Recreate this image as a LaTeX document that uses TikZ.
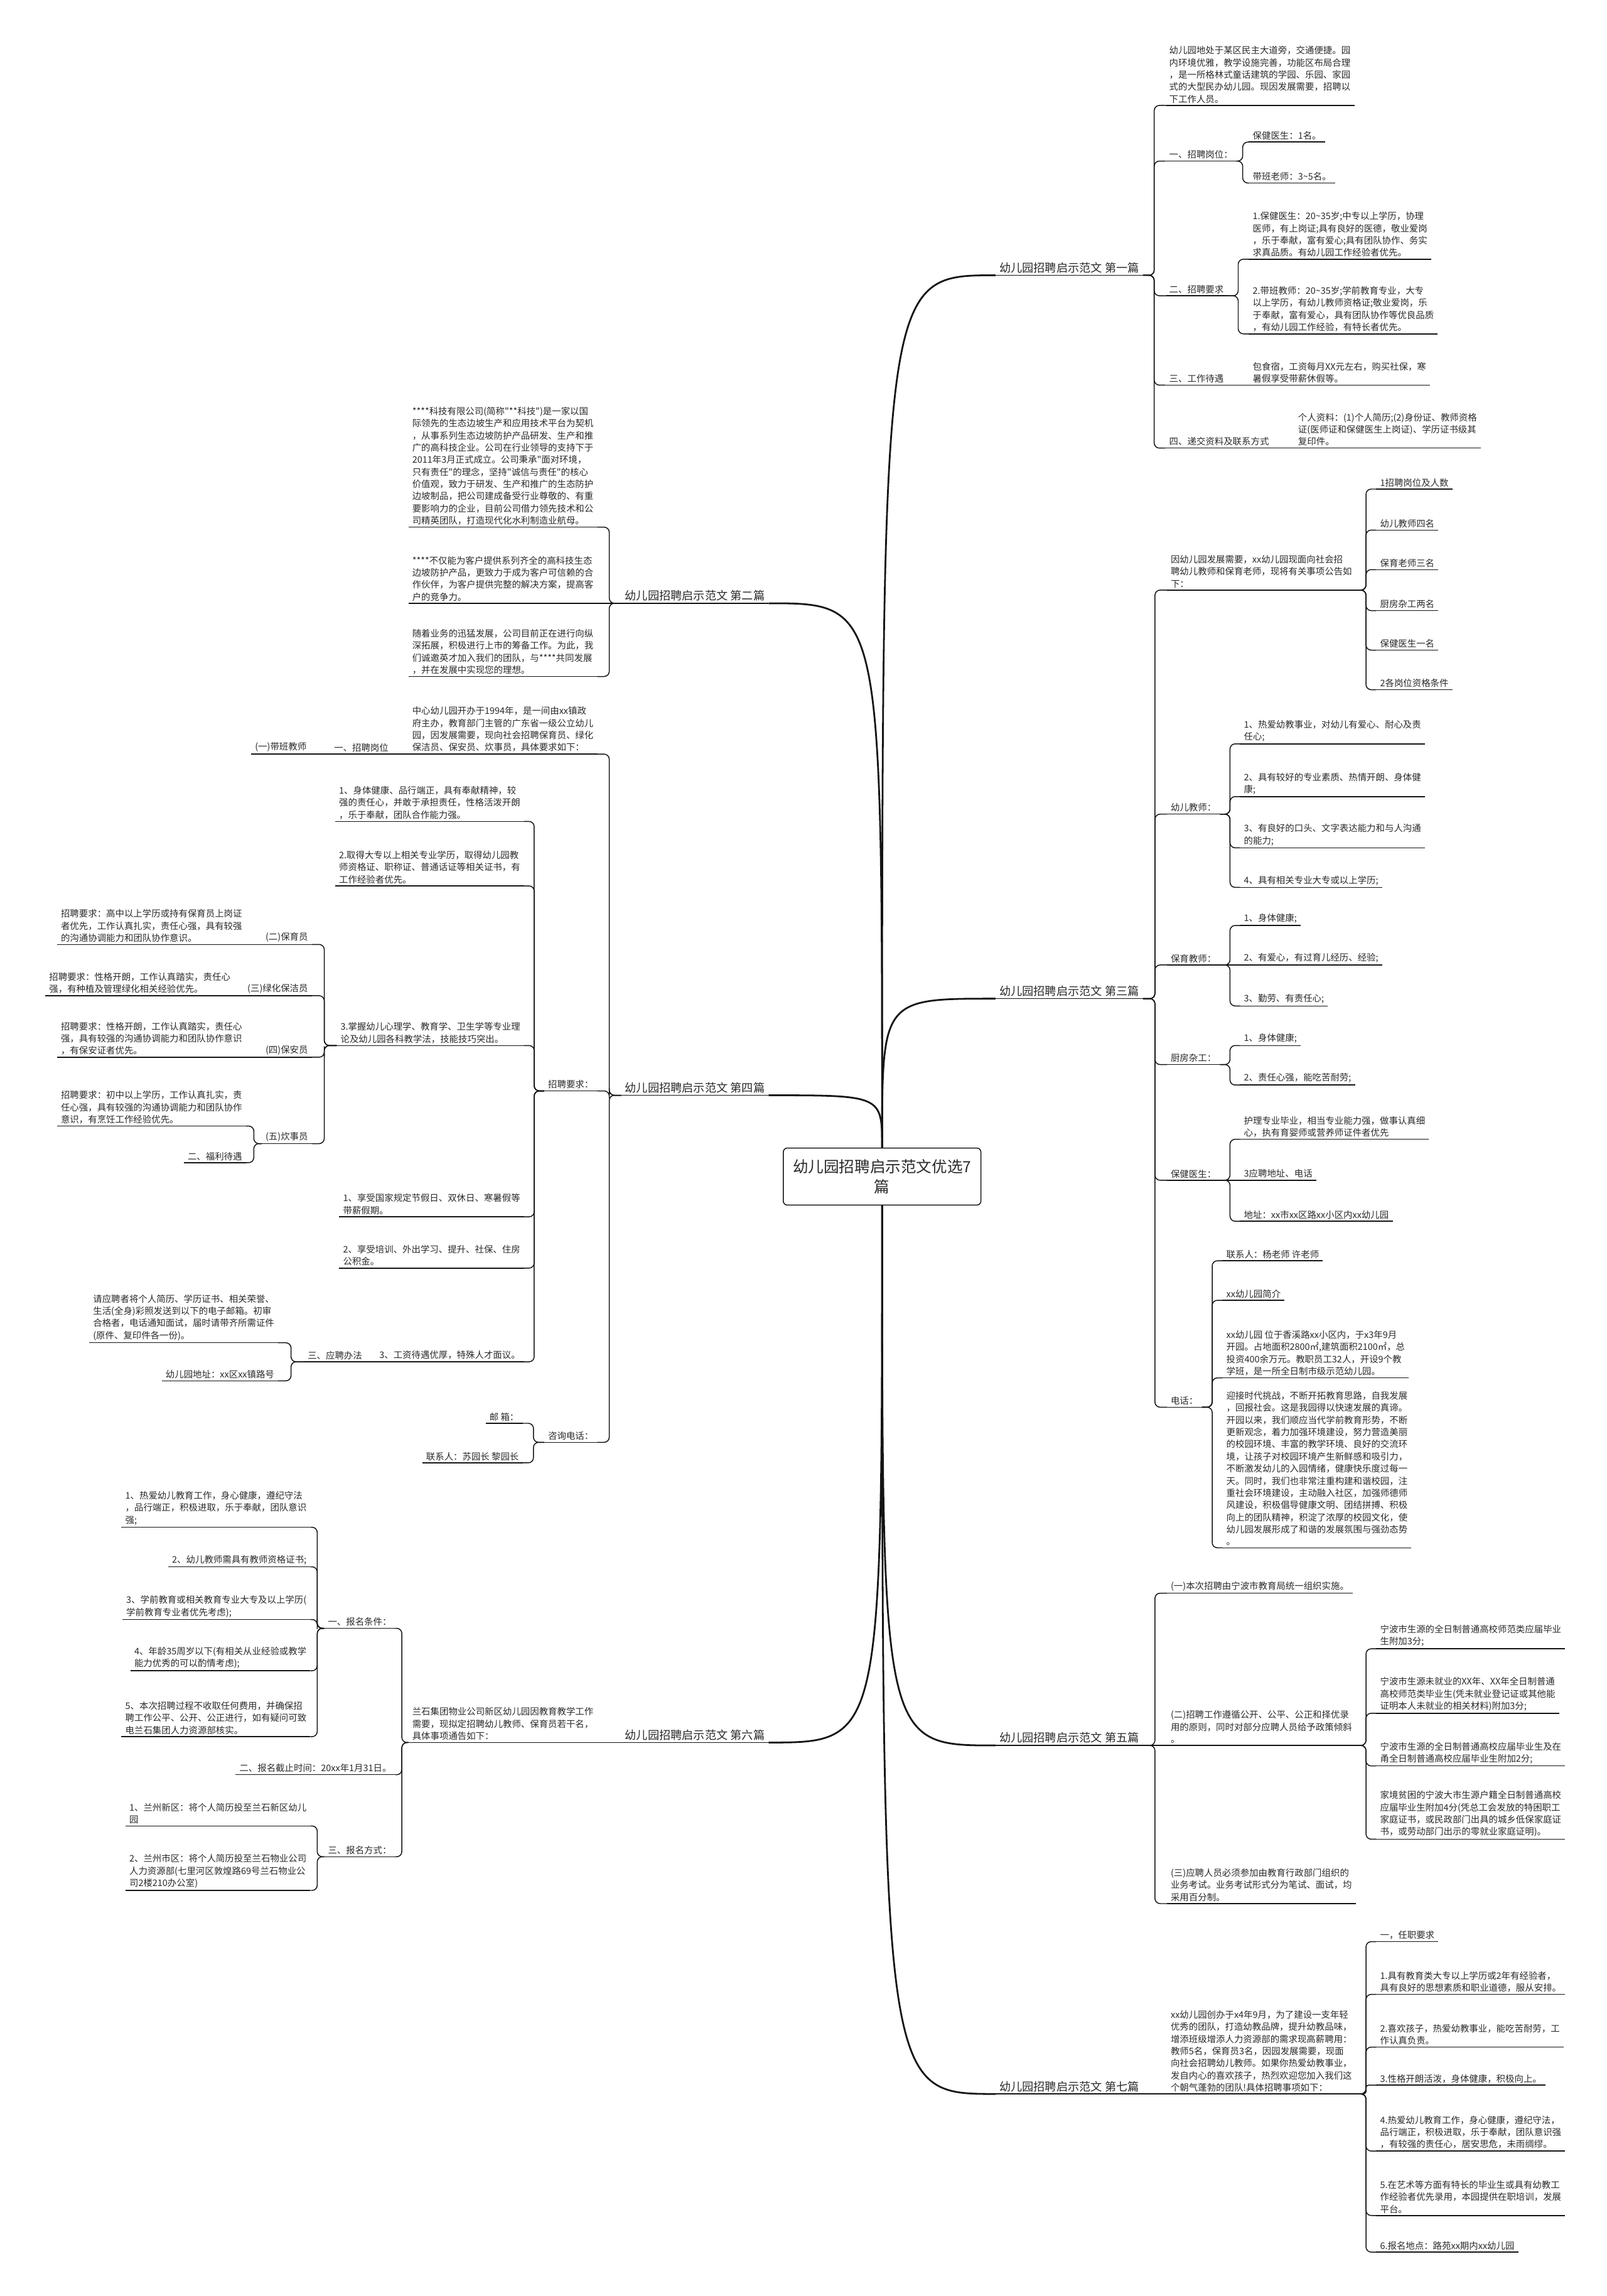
\documentclass[tikz,border=0pt]{standalone}
\usepackage{fontspec}
\setmainfont{Noto Sans CJK SC}[Ligatures=TeXOff]
\usetikzlibrary{calc}

\definecolor{MapInk}{HTML}{141414}
\definecolor{MapText}{HTML}{2A2A2A}

\begin{document}
\begin{tikzpicture}[x=0.5mm,y=-0.5mm,
    rule/.style={draw=MapInk,line width=0.9pt},
    leaf/.style={inner xsep=3.6pt,inner ysep=2pt,align=left,text=MapText,
      font=\fontsize{8.8pt}{11.8pt}\selectfont,
      append after command={(\tikzlastnode.south west) edge[rule] (\tikzlastnode.south east)}},
    rnode/.style={leaf,anchor=south west},
    lnode/.style={leaf,anchor=south east},
    branch/.style={leaf,font=\fontsize{11.1pt}{14pt}\selectfont},
    hub/.style={draw=MapInk,line width=0.9pt,rounded corners=4pt,align=center,
      minimum width=67.5mm,minimum height=19.5mm,text=MapText,
      font=\fontsize{15pt}{20pt}\selectfont},
    trunk/.style={draw=MapInk,line width=1.7pt,
      to path={(\tikztostart) .. controls (\tikztostart |- \tikztotarget) .. (\tikztotarget)}},
    twig/.style={rule,rounded corners=5pt,
      to path={(\tikztostart) -| ($(\tikztostart)!.5!(\tikztotarget)$) |- (\tikztotarget)}}]

    \fill[white] (0,0) rectangle (1097.6,1568);
    \useasboundingbox (0,0) rectangle (1097.6,1568);

    % centre and the seven branches
    \node[hub] (hub) at (602.5,803.5) {幼儿园招聘启示范文优选7\\篇};
    \node[branch,anchor=south west] (b1) at (680,188) {幼儿园招聘启示范文 第一篇};
    \node[branch,anchor=south east] (b2) at (525,412) {幼儿园招聘启示范文 第二篇};
    \node[branch,anchor=south west] (b3) at (680,682) {幼儿园招聘启示范文 第三篇};
    \node[branch,anchor=south east] (b4) at (525,748) {幼儿园招聘启示范文 第四篇};
    \node[branch,anchor=south west] (b5) at (680,1192) {幼儿园招聘启示范文 第五篇};
    \node[branch,anchor=south east] (b6) at (525,1190) {幼儿园招聘启示范文 第六篇};
    \node[branch,anchor=south west] (b7) at (680,1430) {幼儿园招聘启示范文 第七篇};

    \foreach \b in {b1,b3} \draw[trunk] (hub.north) to (\b.south west);
    \foreach \b in {b2,b4} \draw[trunk] (hub.north) to (\b.south east);
    \foreach \b in {b5,b7} \draw[trunk] (hub.south) to (\b.south west);
    \draw[trunk] (hub.south) to (b6.south east);

    % first
    \node[rnode] (a1) at (796,72) {幼儿园地处于某区民主大道旁，交通便捷。园\\内环境优雅，教学设施完善，功能区布局合理\\，是一所格林式童话建筑的学园、乐园、家园\\式的大型民办幼儿园。现因发展需要，招聘以\\下工作人员。};
    \node[rnode] (a2) at (796,110) {一、招聘岗位：};
    \node[rnode] (a2a) at (853,97) {保健医生：1名。};
    \node[rnode] (a2b) at (853,125) {带班老师：3\textasciitilde5名。};
    \node[rnode] (a3) at (796,202) {二、招聘要求};
    \node[rnode] (a3a) at (853,177) {1.保健医生：20\textasciitilde35岁;中专以上学历，协理\\医师，有上岗证;具有良好的医德，敬业爱岗\\，乐于奉献，富有爱心;具有团队协作、务实\\求真品质。有幼儿园工作经验者优先。};
    \node[rnode] (a3b) at (853,228) {2.带班教师：20\textasciitilde35岁;学前教育专业，大专\\以上学历，有幼儿教师资格证;敬业爱岗，乐\\于奉献，富有爱心，具有团队协作等优良品质\\，有幼儿园工作经验，有特长者优先。};
    \node[rnode] (a4) at (796,263) {三、工作待遇};
    \node[rnode] (a4a) at (853,263) {包食宿，工资每月XX元左右，购买社保，寒\\暑假享受带薪休假等。};
    \node[rnode] (a5) at (796,306) {四、递交资料及联系方式};
    \node[rnode] (a5a) at (884,306) {个人资料：(1)个人简历;(2)身份证、教师资格\\证(医师证和保健医生上岗证)、学历证书级其\\复印件。};

    \foreach \c in {a1,a2,a3,a4,a5} \draw[twig] (b1.south east) to (\c.south west);
    \foreach \c in {a2a,a2b} \draw[twig] (a2.south east) to (\c.south west);
    \foreach \c in {a3a,a3b} \draw[twig] (a3.south east) to (\c.south west);
    \draw[rule] (a4.south east) -- (a4a.south west);
    \draw[rule] (a5.south east) -- (a5a.south west);

    % second
    \node[lnode] (d1) at (408,360) {****科技有限公司(简称"**科技")是一家以国\\际领先的生态边坡生产和应用技术平台为契机\\，从事系列生态边坡防护产品研发、生产和推\\广的高科技企业。公司在行业领导的支持下于\\2011年3月正式成立。公司秉承"面对环境，\\只有责任"的理念，坚持"诚信与责任"的核心\\价值观，致力于研发、生产和推广的生态防护\\边坡制品，把公司建成备受行业尊敬的、有重\\要影响力的企业，目前公司借力领先技术和公\\司精英团队，打造现代化水利制造业航母。};
    \node[lnode] (d2) at (408,412) {****不仅能为客户提供系列齐全的高科技生态\\边坡防护产品，更致力于成为客户可信赖的合\\作伙伴，为客户提供完整的解决方案，提高客\\户的竞争力。};
    \node[lnode] (d3) at (408,462) {随着业务的迅猛发展，公司目前正在进行向纵\\深拓展，积极进行上市的筹备工作。为此，我\\们诚邀英才加入我们的团队，与****共同发展\\，并在发展中实现您的理想。};

    \foreach \c in {d1,d3} \draw[twig] (b2.south west) to (\c.south east);
    \draw[rule] (b2.south west) -- (d2.south east);

    % third
    \node[rnode] (c1) at (797,403) {因幼儿园发展需要，xx幼儿园现面向社会招\\聘幼儿教师和保育老师，现将有关事项公告如\\下：};
    \node[rnode] (c1a) at (940,334) {1招聘岗位及人数};
    \node[rnode] (c1b) at (940,362) {幼儿教师四名};
    \node[rnode] (c1c) at (940,389) {保育老师三名};
    \node[rnode] (c1d) at (940,417) {厨房杂工两名};
    \node[rnode] (c1e) at (940,444) {保健医生一名};
    \node[rnode] (c1f) at (940,471) {2各岗位资格条件};
    \node[rnode] (c2) at (797,556) {幼儿教师：};
    \node[rnode] (c2a) at (847,508) {1、热爱幼教事业，对幼儿有爱心、耐心及责\\任心;};
    \node[rnode] (c2b) at (847,544) {2、具有较好的专业素质、热情开朗、身体健\\康;};
    \node[rnode] (c2c) at (847,579) {3、有良好的口头、文字表达能力和与人沟通\\的能力;};
    \node[rnode] (c2d) at (847,606) {4、具有相关专业大专或以上学历;};
    \node[rnode] (c3) at (797,659) {保育教师：};
    \node[rnode] (c3a) at (847,632) {1、身体健康;};
    \node[rnode] (c3b) at (847,659) {2、有爱心，有过育儿经历、经验;};
    \node[rnode] (c3c) at (847,687) {3、勤劳、有责任心;};
    \node[rnode] (c4) at (797,727) {厨房杂工：};
    \node[rnode] (c4a) at (847,714) {1、身体健康;};
    \node[rnode] (c4b) at (847,741) {2、责任心强，能吃苦耐劳;};
    \node[rnode] (c5) at (797,806) {保健医生：};
    \node[rnode] (c5a) at (847,778) {护理专业毕业，相当专业能力强，做事认真细\\心，执有育婴师或营养师证件者优先};
    \node[rnode] (c5b) at (847,806) {3应聘地址、电话};
    \node[rnode] (c5c) at (847,834) {地址：xx市xx区路xx小区内xx幼儿园};
    \node[rnode] (c6) at (797,961) {电话：};
    \node[rnode] (c6a) at (835,861) {联系人：杨老师 许老师};
    \node[rnode] (c6b) at (835,888) {xx幼儿园简介};
    \node[rnode] (c6c) at (835,941) {xx幼儿园 位于香溪路xx小区内，于x3年9月\\开园。占地面积2800㎡,建筑面积2100㎡，总\\投资400余万元。教职员工32人，开设9个教\\学班，是一所全日制市级示范幼儿园。};
    \node[rnode] (c6d) at (835,1057) {迎接时代挑战，不断开拓教育思路，自我发展\\，回报社会。这是我园得以快速发展的真谛。\\开园以来，我们顺应当代学前教育形势，不断\\更新观念，着力加强环境建设，努力营造美丽\\的校园环境、丰富的教学环境、良好的交流环\\境，让孩子对校园环境产生新鲜感和吸引力，\\不断激发幼儿的入园情绪，健康快乐度过每一\\天。同时，我们也非常注重构建和谐校园，注\\重社会环境建设，主动融入社区，加强师德师\\风建设，积极倡导健康文明、团结拼搏、积极\\向上的团队精神，积淀了浓厚的校园文化，使\\幼儿园发展形成了和谐的发展氛围与强劲态势\\。};

    \foreach \c in {c1,c2,c3,c4,c5,c6} \draw[twig] (b3.south east) to (\c.south west);
    \foreach \c in {c1a,c1b,c1c,c1d,c1e,c1f} \draw[twig] (c1.south east) to (\c.south west);
    \foreach \c in {c2a,c2b,c2c,c2d} \draw[twig] (c2.south east) to (\c.south west);
    \foreach \c in {c3a,c3c} \draw[twig] (c3.south east) to (\c.south west);
    \draw[rule] (c3.south east) -- (c3b.south west);
    \foreach \c in {c4a,c4b} \draw[twig] (c4.south east) to (\c.south west);
    \foreach \c in {c5a,c5c} \draw[twig] (c5.south east) to (\c.south west);
    \draw[rule] (c5.south east) -- (c5b.south west);
    \foreach \c in {c6a,c6b,c6c,c6d} \draw[twig] (c6.south east) to (\c.south west);

    % fourth
    \node[lnode] (f1) at (408,515) {中心幼儿园开办于1994年，是一间由xx镇政\\府主办，教育部门主管的广东省一级公立幼儿\\园，因发展需要，现向社会招聘保育员、绿化\\保洁员、保安员、炊事员，具体要求如下：};
    \node[lnode] (f1a) at (268,515) {一、招聘岗位};
    \node[lnode] (f1b) at (212,515) {(一)带班教师};
    \node[lnode] (f2) at (408,745) {招聘要求：};
    \node[lnode] (f2a) at (358,561) {1、身体健康、品行端正，具有奉献精神，较\\强的责任心，并敢于承担责任，性格活泼开朗\\，乐于奉献，团队合作能力强。};
    \node[lnode] (f2b) at (358,605) {2.取得大专以上相关专业学历，取得幼儿园教\\师资格证、职称证、普通话证等相关证书，有\\工作经验者优先。};
    \node[lnode] (f2c) at (358,714) {3.掌握幼儿心理学、教育学、卫生学等专业理\\论及幼儿园各科教学法，技能技巧突出。};
    \node[lnode] (f2c1) at (213,645) {(二)保育员};
    \node[lnode] (f2c1a) at (168,645) {招聘要求：高中以上学历或持有保育员上岗证\\者优先，工作认真扎实，责任心强，具有较强\\的沟通协调能力和团队协作意识。};
    \node[lnode] (f2c2) at (213,680) {(三)绿化保洁员};
    \node[lnode] (f2c2a) at (160,680) {招聘要求：性格开朗，工作认真踏实，责任心\\强，有种植及管理绿化相关经验优先。};
    \node[lnode] (f2c3) at (213,722) {(四)保安员};
    \node[lnode] (f2c3a) at (168,722) {招聘要求：性格开朗，工作认真踏实，责任心\\强，具有较强的沟通协调能力和团队协作意识\\，有保安证者优先。};
    \node[lnode] (f2c4) at (213,781) {(五)炊事员};
    \node[lnode] (f2c4a) at (168,769) {招聘要求：初中以上学历，工作认真扎实，责\\任心强，具有较强的沟通协调能力和团队协作\\意识，有烹饪工作经验优先。};
    \node[lnode] (f2c4b) at (168,794) {二、福利待遇};
    \node[lnode] (f2d) at (358,831) {1、享受国家规定节假日、双休日、寒暑假等\\带薪假期。};
    \node[lnode] (f2e) at (358,866) {2、享受培训、外出学习、提升、社保、住房\\公积金。};
    \node[lnode] (f2f) at (358,930) {3、工资待遇优厚，特殊人才面议。};
    \node[lnode] (f2f1) at (250,930) {三、应聘办法};
    \node[lnode] (f2f1a) at (190,917) {请应聘者将个人简历、学历证书、相关荣誉、\\生活(全身)彩照发送到以下的电子邮箱。初审\\合格者，电话通知面试，届时请带齐所需证件\\(原件、复印件各一份)。};
    \node[lnode] (f2f1b) at (190,943) {幼儿园地址：xx区xx镇路号};
    \node[lnode] (f3) at (408,985) {咨询电话：};
    \node[lnode] (f3a) at (357,972) {邮 箱：};
    \node[lnode] (f3b) at (357,999) {联系人：苏园长 黎园长};

    \foreach \c in {f1,f2,f3} \draw[twig] (b4.south west) to (\c.south east);
    \draw[rule] (f1.south west) -- (f1a.south east);
    \draw[rule] (f1a.south west) -- (f1b.south east);
    \foreach \c in {f2a,f2b,f2c,f2d,f2e,f2f} \draw[twig] (f2.south west) to (\c.south east);
    \foreach \c in {f2c1,f2c2,f2c3,f2c4} \draw[twig] (f2c.south west) to (\c.south east);
    \draw[rule] (f2c1.south west) -- (f2c1a.south east);
    \draw[rule] (f2c2.south west) -- (f2c2a.south east);
    \draw[rule] (f2c3.south west) -- (f2c3a.south east);
    \foreach \c in {f2c4a,f2c4b} \draw[twig] (f2c4.south west) to (\c.south east);
    \draw[rule] (f2f.south west) -- (f2f1.south east);
    \foreach \c in {f2f1a,f2f1b} \draw[twig] (f2f1.south west) to (\c.south east);
    \foreach \c in {f3a,f3b} \draw[twig] (f3.south west) to (\c.south east);

    % fifth
    \node[rnode] (e1) at (797,1088) {(一)本次招聘由宁波市教育局统一组织实施。};
    \node[rnode] (e2) at (797,1192) {(二)招聘工作遵循公开、公平、公正和择优录\\用的原则，同时对部分应聘人员给予政策倾斜\\。};
    \node[rnode] (e2a) at (940,1126) {宁波市生源的全日制普通高校师范类应届毕业\\生附加3分;};
    \node[rnode] (e2b) at (940,1170) {宁波市生源未就业的XX年、XX年全日制普通\\高校师范类毕业生(凭未就业登记证或其他能\\证明本人未就业的相关材料)附加3分;};
    \node[rnode] (e2c) at (940,1206) {宁波市生源的全日制普通高校应届毕业生及在\\甬全日制普通高校应届毕业生附加2分;};
    \node[rnode] (e2d) at (940,1256) {家境贫困的宁波大市生源户籍全日制普通高校\\应届毕业生附加4分(凭总工会发放的特困职工\\家庭证书，或民政部门出具的城乡低保家庭证\\书，或劳动部门出示的零就业家庭证明)。};
    \node[rnode] (e3) at (797,1300) {(三)应聘人员必须参加由教育行政部门组织的\\业务考试。业务考试形式分为笔试、面试，均\\采用百分制。};

    \foreach \c in {e1,e3} \draw[twig] (b5.south east) to (\c.south west);
    \draw[rule] (b5.south east) -- (e2.south west);
    \foreach \c in {e2a,e2b,e2c,e2d} \draw[twig] (e2.south east) to (\c.south west);

    % sixth
    \node[lnode] (h1) at (408,1190) {兰石集团物业公司新区幼儿园因教育教学工作\\需要，现拟定招聘幼儿教师、保育员若干名，\\具体事项通告如下：};
    \node[lnode] (h1a) at (270,1112) {一、报名条件：};
    \node[lnode] (h1a1) at (212,1043) {1、热爱幼儿教育工作，身心健康，遵纪守法\\，品行端正，积极进取，乐于奉献，团队意识\\强;};
    \node[lnode] (h1a2) at (212,1070) {2、幼儿教师需具有教师资格证书;};
    \node[lnode] (h1a3) at (212,1106) {3、学前教育或相关教育专业大专及以上学历(\\学前教育专业者优先考虑);};
    \node[lnode] (h1a4) at (212,1141) {4、年龄35周岁以下(有相关从业经验或教学\\能力优秀的可以酌情考虑);};
    \node[lnode] (h1a5) at (212,1186) {5、本次招聘过程不收取任何费用，并确保招\\聘工作公平、公开、公正进行，如有疑问可致\\电兰石集团人力资源部核实。};
    \node[lnode] (h1b) at (270,1212) {二、报名截止时间：20xx年1月31日。};
    \node[lnode] (h1c) at (270,1268) {三、报名方式：};
    \node[lnode] (h1c1) at (212,1247) {1、兰州新区：将个人简历投至兰石新区幼儿\\园};
    \node[lnode] (h1c2) at (212,1291) {2、兰州市区：将个人简历投至兰石物业公司\\人力资源部(七里河区敦煌路69号兰石物业公\\司2楼210办公室)};

    \draw[rule] (b6.south west) -- (h1.south east);
    \foreach \c in {h1a,h1b,h1c} \draw[twig] (h1.south west) to (\c.south east);
    \foreach \c in {h1a1,h1a2,h1a3,h1a4,h1a5} \draw[twig] (h1a.south west) to (\c.south east);
    \foreach \c in {h1c1,h1c2} \draw[twig] (h1c.south west) to (\c.south east);

    % seventh
    \node[rnode] (g1) at (797,1430) {xx幼儿园创办于x4年9月，为了建设一支年轻\\优秀的团队，打造幼教品牌，提升幼教品味，\\增添班级增添人力资源部的需求现高薪聘用：\\教师5名，保育员3名，因园发展需要，现面\\向社会招聘幼儿教师。如果你热爱幼教事业，\\发自内心的喜欢孩子，热烈欢迎您加入我们这\\个朝气蓬勃的团队!具体招聘事项如下：};
    \node[rnode] (g1a) at (940,1326) {一，任职要求};
    \node[rnode] (g1b) at (940,1362) {1.具有教育类大专以上学历或2年有经验者，\\具有良好的思想素质和职业道德，服从安排。};
    \node[rnode] (g1c) at (940,1398) {2.喜欢孩子，热爱幼教事业，能吃苦耐劳，工\\作认真负责。};
    \node[rnode] (g1d) at (940,1424) {3.性格开朗活泼，身体健康，积极向上。};
    \node[rnode] (g1e) at (940,1469) {4.热爱幼儿教育工作，身心健康，遵纪守法，\\品行端正，积极进取，乐于奉献，团队意识强\\，有较强的责任心，居安思危，未雨绸缪。};
    \node[rnode] (g1f) at (940,1513) {5.在艺术等方面有特长的毕业生或具有幼教工\\作经验者优先录用，本园提供在职培训，发展\\平台。};
    \node[rnode] (g1g) at (940,1538) {6.报名地点：路苑xx期内xx幼儿园};

    \draw[rule] (b7.south east) -- (g1.south west);
    \foreach \c in {g1a,g1b,g1c,g1e,g1f,g1g} \draw[twig] (g1.south east) to (\c.south west);
    \draw[twig,rounded corners=2.5pt] (g1.south east) to (g1d.south west);
\end{tikzpicture}
\end{document}
